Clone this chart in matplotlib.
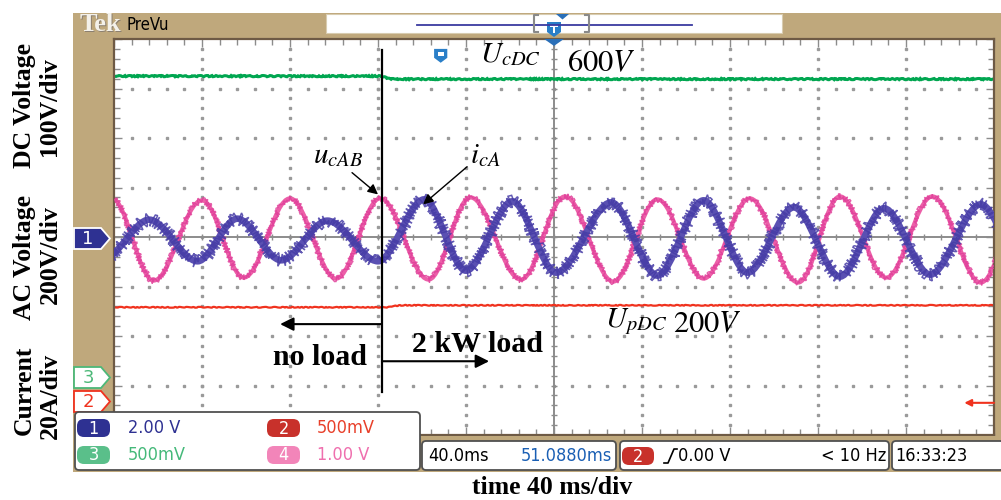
import matplotlib
matplotlib.use("Agg")
import matplotlib.pyplot as plt
from matplotlib.path import Path
from matplotlib.patches import PathPatch, Rectangle, FancyBboxPatch, Polygon
from matplotlib import font_manager
import numpy as np

plt.rcParams['mathtext.fontset'] = 'stix'

# ---------------- data (time in ms from left edge, amplitude in divisions) -------------
pink_t = [-1, 18, 40, 59, 80, 101, 121, 143, 162, 185, 205, 227, 247, 268, 289, 311, 330, 351, 372, 394, 414]
pink_v = [0.78, -0.88, 0.74, -0.82, 0.78, -0.84, 0.78, -0.86, 0.80, -0.86, 0.82, -0.90, 0.76, -0.84,
          0.78, -0.92, 0.82, -0.82, 0.82, -0.92, 0.78]
blue_t = [-5, 16, 38, 56, 76, 97, 120, 141, 160, 181, 201, 226, 247, 268, 288, 309, 330, 350, 371, 394, 415]
blue_v = [-0.45, 0.35, -0.49, 0.37, -0.47, 0.33, -0.49, 0.76, -0.68, 0.72, -0.72, 0.70, -0.78, 0.74,
          -0.72, 0.60, -0.80, 0.58, -0.76, 0.66, -0.72]
green_t = [0, 121, 126, 400]
green_v = [3.25, 3.25, 3.19, 3.19]
red_t = [0, 124, 130, 400]
red_v = [-1.42, -1.42, -1.38, -1.38]
load_step_ms = 121.8

ch_names = ['1', '2', '3', '4']
ch_scales = ['2.00 V', '500mV', '500mV', '1.00 V']
timebase = '40.0ms'
trig_pos = '51.0880ms'
trig_level = '0.00 V'
trig_freq = '< 10 Hz'
clock = '16:33:23'

# ---------------- styles -------------
TAN = '#bfa87c'
BORDER = '#6e5a45'
GRIDC = '#9a9a9a'
C_BLUE = '#5a50b2'
C_BLUE_N = '#463ca6'
C_PINK = '#ec5fa8'
C_PINK_N = '#e0409a'
C_RED = '#f0321e'
C_GREEN = '#00a650'
NAVY = '#2e3192'

names = {f.name for f in font_manager.fontManager.ttflist}
NARROW = 'Liberation Sans Narrow' if 'Liberation Sans Narrow' in names else 'DejaVu Sans'
SERIF = 'Liberation Serif'

fig = plt.figure(figsize=(10.01, 5.0), dpi=100)

# background layer in pixel coordinates
bg = fig.add_axes([0, 0, 1, 1], zorder=0)
bg.set_xlim(0, 1001); bg.set_ylim(500, 0); bg.axis('off')
bg.add_patch(Rectangle((73, 13), 928, 459, fc=TAN, ec='none'))
# top white box
bg.add_patch(Rectangle((326, 14), 456, 19, fc='white', ec='#d8ccb0', lw=0.8))
bg.plot([417, 692], [25, 25], color='#3a3aa0', lw=1.3)
for xb, s in ((534, 1), (589, -1)):
    bg.plot([xb + 4 * s, xb, xb, xb + 4 * s], [15, 15, 32, 32], color='#8a8a8a', lw=1.5)
bg.add_patch(Polygon([[556, 14], [569, 14], [562.5, 19.5]], closed=True, fc='#2a6fb8', ec='none'))
bg.add_patch(Polygon([[547, 22], [561, 22], [561, 32], [554, 37], [547, 32]], closed=True,
                     fc='#2a7fc8', ec='none'))
bg.add_patch(Rectangle((550, 25), 8, 2, fc='white', ec='none'))
bg.add_patch(Rectangle((553, 25), 2, 8, fc='white', ec='none'))
# Tek PreVu
bg.text(81, 32, 'Tek', fontsize=19, family=SERIF, weight='bold', color='#8c8070', va='baseline')
bg.text(80, 31, 'Tek', fontsize=19, family=SERIF, weight='bold', color='#f4f1ea', va='baseline')
bg.text(126, 25.5, 'PreVu', fontsize=12, family=NARROW, fontstretch='condensed', color='black', va='center')

# channel markers at left
def ch_marker(ax, y, fc, ec, tc, txt):
    x0, x1, h = 74, 110, 21
    pts = [[x0, y - h / 2], [x1 - 9, y - h / 2], [x1, y], [x1 - 9, y + h / 2], [x0, y + h / 2]]
    ax.add_patch(Polygon(pts, closed=True, fc=fc, ec=ec, lw=1.3, zorder=3))
    ax.text(88, y + 0.5, txt, color=tc, fontsize=13, family=NARROW, ha='center', va='center', zorder=4)

ch_marker(bg, 238.5, NAVY, 'white', 'white', ch_names[0])
ch_marker(bg, 377.5, 'white', '#4cb878', '#4cb878', ch_names[2])
ch_marker(bg, 401.5, 'white', C_RED, C_RED, ch_names[1])

# left rotated labels
for (xc, yc, s) in [(24, 105, 'DC Voltage'), (50, 107, '100V/div'),
                    (24, 257, 'AC Voltage'), (50, 255, '200V/div'),
                    (24, 390, 'Current'), (50, 396, '20A/div')]:
    bg.text(xc, yc, s, rotation=90, ha='center', va='center', fontsize=18.5,
            family=SERIF, weight='bold', color='black')
bg.text(552, 487, 'time 40 ms/div', ha='center', va='center', fontsize=18.5,
        family=SERIF, weight='bold', color='black')

# ---------------- main scope graticule -------------
ax = fig.add_axes([114 / 1001, (500 - 435) / 500, (994 - 114) / 1001, (435 - 39) / 500], zorder=1)
ax.set_facecolor('white')
ax.set_xlim(0, 400)
ax.set_ylim(-4, 4)
for sp in ax.spines.values():
    sp.set_color(BORDER); sp.set_linewidth(1.6)
ax.set_xticks(np.arange(0, 401, 40))
ax.set_yticks(np.arange(-4, 5, 1))
ax.set_xticks(np.arange(0, 401, 8), minor=True)
ax.set_yticks(np.arange(-4, 4.01, 0.2), minor=True)
ax.tick_params(which='both', direction='in', top=True, right=True, labelleft=False,
               labelbottom=False, color='#8c8c8c', width=1)
ax.tick_params(which='major', length=6)
ax.tick_params(which='minor', length=4)

tx = np.arange(8, 400, 8)
vy = np.arange(-3.8, 3.81, 0.2)
for v in [-3, -2, -1, 1, 2, 3]:
    ax.plot(tx, np.full_like(tx, v, dtype=float), ls='none', marker='s', ms=1.5, color=GRIDC, zorder=1)
for t in [40, 80, 120, 160, 240, 280, 320, 360]:
    ax.plot(np.full_like(vy, t), vy, ls='none', marker='s', ms=1.5, color=GRIDC, zorder=1)
ax.axhline(0, color='#8c8c8c', lw=1.4, zorder=1.2)
ax.axvline(200, color='#8c8c8c', lw=1.4, zorder=1.2)
ax.plot(tx, np.zeros_like(tx, dtype=float), ls='none', marker='|', ms=5, mew=1, color='#8c8c8c', zorder=1.2)
ax.plot(np.full_like(vy, 200), vy, ls='none', marker='_', ms=5, mew=1, color='#8c8c8c', zorder=1.2)


def wave_path(ts, vs, a):
    verts = [(ts[0], vs[0])]
    codes = [Path.MOVETO]
    for i in range(1, len(ts)):
        t0, v0, t1, v1 = ts[i - 1], vs[i - 1], ts[i], vs[i]
        d = a * (t1 - t0)
        verts += [(t0 + d, v0), (t1 - d, v1), (t1, v1)]
        codes += [Path.CURVE4] * 3
    return Path(verts, codes)


def noisy_trace(ts, vs, a, color, ncolor, lw, nlw, nscale, nlen, z):
    path = wave_path(ts, vs, a)
    base = PathPatch(path, fill=False, ec=color, lw=lw, zorder=z, capstyle='butt', joinstyle='round')
    ax.add_patch(base)
    noise = PathPatch(path, fill=False, ec=ncolor, lw=nlw, zorder=z + 0.1, alpha=0.85)
    noise.set_sketch_params(scale=nscale, length=nlen, randomness=4)
    ax.add_patch(noise)


# DC traces
gl, = ax.plot(green_t, green_v, color=C_GREEN, lw=2.2, zorder=2, solid_joinstyle='miter')
gl.set_sketch_params(scale=0.6, length=6, randomness=4)
rl, = ax.plot(red_t, red_v, color=C_RED, lw=1.6, zorder=2)
rl.set_sketch_params(scale=0.4, length=8, randomness=4)

# AC traces
noisy_trace(pink_t, pink_v, 0.36, C_PINK, C_PINK_N, 3.0, 1.0, 3.2, 2.0, 2.5)
noisy_trace(blue_t, blue_v, 0.32, C_BLUE, C_BLUE_N, 4.8, 1.1, 6.5, 2.0, 3.0)

# trigger markers inside grid
ax.add_patch(Polygon([[195.5, 4.0], [204.5, 4.0], [200, 3.86]], closed=True, fc='#2a6fb8',
                     ec='none', zorder=6, clip_on=False))
ax.add_patch(Polygon([[145.5, 3.80], [151.5, 3.80], [151.5, 3.62], [148.5, 3.52], [145.5, 3.62]],
                     closed=True, fc='#2a7fc8', ec='none', zorder=6))
ax.add_patch(Rectangle((147.2, 3.66), 2.6, 0.08, fc='white', ec='none', zorder=6.5))

# load step line and annotations
ax.plot([load_step_ms, load_step_ms], [3.78, -3.13], color='black', lw=1.6, zorder=5)
ax.annotate('', xy=(75.5, -1.76), xytext=(load_step_ms, -1.76),
            arrowprops=dict(arrowstyle='-|>', color='black', lw=1.5, mutation_scale=20,
                            shrinkA=0, shrinkB=0), zorder=5)
ax.annotate('', xy=(170.5, -2.51), xytext=(load_step_ms, -2.51),
            arrowprops=dict(arrowstyle='-|>', color='black', lw=1.5, mutation_scale=20,
                            shrinkA=0, shrinkB=0), zorder=5)
ax.text(72.3, -2.59, 'no load', fontsize=21.5, family=SERIF, weight='bold', va='baseline', zorder=6)
ax.text(135.5, -2.33, '2 kW load', fontsize=21.5, family=SERIF, weight='bold', va='baseline', zorder=6)

ax.text(166.4, 3.54, r'$U_{cDC}$', fontsize=21, va='baseline', zorder=6)
ax.text(205.9, 3.34, r'$\mathrm{600}V$', fontsize=22, va='baseline', zorder=6)
ax.text(223.2, -1.82, r'$U_{pDC}$', fontsize=21, va='baseline', zorder=6)
ax.text(254.0, -1.93, r'$\mathrm{200}V$', fontsize=22, va='baseline', zorder=6)

ax.text(90.5, 1.50, r'$u_{cAB}$', fontsize=21, va='baseline', zorder=6)
ax.text(161.8, 1.50, r'$i_{cA}$', fontsize=21, va='baseline', zorder=6)
ax.annotate('', xy=(120.0, 0.86), xytext=(108.2, 1.30),
            arrowprops=dict(arrowstyle='-|>', color='black', lw=1.0, mutation_scale=15,
                            shrinkA=0, shrinkB=0), zorder=6)
ax.annotate('', xy=(140.5, 0.66), xytext=(160.5, 1.42),
            arrowprops=dict(arrowstyle='-|>', color='black', lw=1.0, mutation_scale=15,
                            shrinkA=0, shrinkB=0), zorder=6)

# trigger level marker at right
ax.annotate('', xy=(386.5, -3.35), xytext=(400, -3.35),
            arrowprops=dict(arrowstyle='-|>', color=C_RED, lw=1.5, mutation_scale=10,
                            shrinkA=0, shrinkB=0), zorder=6, annotation_clip=False)

# ---------------- foreground readouts -------------
fg = fig.add_axes([0, 0, 1, 1], zorder=4)
fg.set_xlim(0, 1001); fg.set_ylim(500, 0); fg.axis('off')
fg.patch.set_visible(False)

fg.add_patch(Rectangle((420, 436), 581, 36, fc=TAN, ec='none'))
fg.add_patch(FancyBboxPatch((75, 412), 345, 58, boxstyle='round,pad=0,rounding_size=4',
                            fc='white', ec='#505050', lw=1.3))
for (x0, y0, fc) in [(77, 419, NAVY), (267, 419, '#c8312b'), (77, 446, '#5abf8a'), (267, 446, '#f285b9')]:
    fg.add_patch(FancyBboxPatch((x0, y0), 33, 18, boxstyle='round,pad=0,rounding_size=7',
                                fc=fc, ec='none'))
pill_pos = {'1': (93.5, 428), '2': (283.5, 428), '3': (93.5, 455), '4': (283.5, 455)}
for n in ch_names:
    fg.text(pill_pos[n][0], pill_pos[n][1] + 0.5, n, color='white', fontsize=13, family=NARROW,
            fontstretch='condensed', ha='center', va='center')
scale_pos = {'1': (128, 428, NAVY), '2': (317, 428, '#e8402a'), '3': (128, 455, '#45b97a'),
             '4': (317, 455, '#ef6fae')}
for n, s in zip(ch_names, ch_scales):
    x, y, c = scale_pos[n]
    fg.text(x, y, s, color=c, fontsize=13, family=NARROW, fontstretch='condensed', va='center')

for (x0, w) in [(422, 194), (620, 269), (892, 112)]:
    fg.add_patch(FancyBboxPatch((x0, 441), w, 29, boxstyle='round,pad=0,rounding_size=4',
                                fc='white', ec='#505050', lw=1.3))
fg.text(428, 456, timebase, color='black', fontsize=13, family=NARROW, fontstretch='condensed', va='center')
fg.text(612, 456, trig_pos, color='#1a5fb4', fontsize=13, family=NARROW, fontstretch='condensed',
        va='center', ha='right')
fg.add_patch(FancyBboxPatch((622, 447), 32, 18, boxstyle='round,pad=0,rounding_size=7',
                            fc='#c8312b', ec='none'))
fg.text(638, 456.5, '2', color='white', fontsize=13, family=NARROW, fontstretch='condensed',
        ha='center', va='center')
fg.plot([664, 668, 674, 677], [463, 463, 449, 449], color='black', lw=1.2)
fg.text(678, 456, trig_level, color='black', fontsize=13, family=NARROW, fontstretch='condensed', va='center')
fg.text(886, 456, trig_freq, color='black', fontsize=13, family=NARROW, fontstretch='condensed',
        va='center', ha='right')
fg.text(895, 456, clock, color='black', fontsize=13, family=NARROW, fontstretch='condensed', va='center')

fig.savefig('out.png', dpi=100, facecolor='white')
